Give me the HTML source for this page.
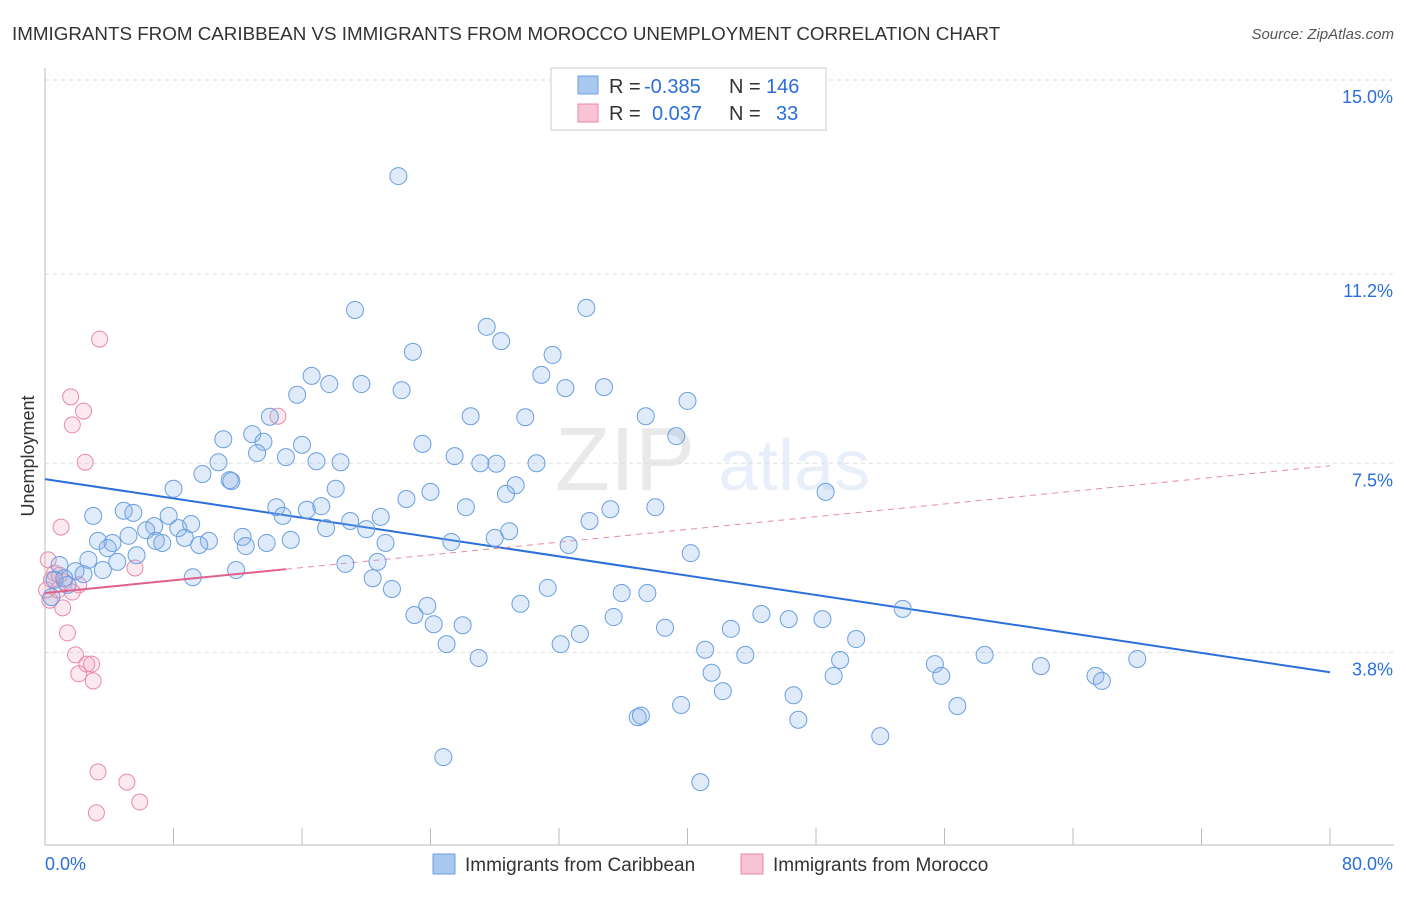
<!DOCTYPE html>
<html><head><meta charset="utf-8"><style>
body{margin:0;background:#fff;font-family:"Liberation Sans",sans-serif;}
svg text{font-family:"Liberation Sans",sans-serif;}
</style></head><body>
<svg id="chart" width="1406" height="892" xmlns="http://www.w3.org/2000/svg">
<text x="12" y="40" font-size="18.8" fill="#333">IMMIGRANTS FROM CARIBBEAN VS IMMIGRANTS FROM MOROCCO UNEMPLOYMENT CORRELATION CHART</text>
<text x="1394" y="39" font-size="15" fill="#555" text-anchor="end" font-style="italic">Source: ZipAtlas.com</text>
<g opacity="0.12">
<text x="555" y="490" font-size="90" font-family="Liberation Serif" fill="#555">ZIP</text>
<text x="718" y="490" font-size="72" fill="#4a86d8">atlas</text>
</g>
<g id="grid"></g>
<g id="axes"></g>
<g id="trends"></g>
<g id="points"></g>
<text transform="translate(34,456) rotate(-90)" font-size="18" fill="#333" text-anchor="middle">Unemployment</text>
<g>
<rect x="551" y="68" width="275" height="62" fill="#fff" stroke="#ccc"/>
<rect x="578" y="76" width="20" height="18" fill="#a9c8f0" stroke="#6a9fe0"/>
<rect x="578" y="104" width="20" height="18" fill="#f8c3d4" stroke="#e88aa8"/>
<text x="609" y="93" font-size="20" fill="#333">R =</text>
<text x="644" y="93" font-size="20" fill="#2a6fdb">-0.385</text>
<text x="729" y="93" font-size="20" fill="#333">N =</text>
<text x="766" y="93" font-size="20" fill="#2a6fdb">146</text>
<text x="609" y="120" font-size="20" fill="#333">R =</text>
<text x="652" y="120" font-size="20" fill="#2a6fdb">0.037</text>
<text x="729" y="120" font-size="20" fill="#333">N =</text>
<text x="776" y="120" font-size="20" fill="#2a6fdb">33</text>
</g>
<g>
<rect x="433" y="854" width="22" height="20" fill="#a9c8f0" stroke="#6a9fe0"/>
<text x="465" y="871" font-size="19" fill="#333">Immigrants from Caribbean</text>
<rect x="741" y="854" width="22" height="20" fill="#f8c3d4" stroke="#e88aa8"/>
<text x="773" y="871" font-size="19" fill="#333">Immigrants from Morocco</text>
</g>
</svg>
<script>
const yTicks=[15.0,11.2,7.5,3.8];
const yTickLabels=["15.0%","11.2%","7.5%","3.8%"];
const xTicks=[0,8,16,24,32,40,48,56,64,72,80];
const xLabels=["0.0%","80.0%"];
const blueX=[22.0,19.3,33.7,27.5,28.4,22.9,31.6,16.6,17.7,19.7,30.9,32.4,34.8,22.2,15.7,40.0,14.0,26.5,29.9,37.4,12.9,11.1,13.6,16.0,23.5,39.3,13.2,15.0,10.8,16.9,18.4,25.5,27.1,28.1,30.6,9.8,11.5,11.6,8.0,18.1,29.3,28.7,24.0,22.5,48.6,14.4,16.3,17.2,26.2,35.2,38.0,3.0,4.9,5.5,7.7,14.8,19.0,20.9,33.9,6.8,6.3,8.3,9.1,17.5,20.0,28.9,3.3,4.2,5.2,6.9,7.3,8.7,10.2,9.6,12.3,12.5,13.8,15.3,21.2,25.3,28.0,32.6,3.9,5.7,2.7,4.5,40.2,3.6,1.9,2.4,18.7,20.7,9.2,11.9,20.4,21.6,31.3,35.9,37.5,29.6,23.8,23.0,24.2,26.0,35.4,44.6,46.3,48.4,53.4,33.3,38.6,42.7,50.5,25.0,32.1,27.0,41.1,43.6,49.5,55.4,58.5,62.0,68.0,41.5,49.1,55.8,65.4,65.8,42.2,46.6,39.6,56.8,36.9,46.9,52.0,24.8,40.8,0.9,0.6,1.4,0.4,1.2,37.1];
const blueY=[13.12,10.50,10.54,10.17,9.89,9.68,9.62,9.21,9.05,9.05,9.23,8.97,8.99,8.93,8.84,8.72,8.41,8.42,8.40,8.42,8.07,7.97,7.92,7.86,7.88,8.03,7.70,7.62,7.52,7.54,7.52,7.64,7.50,7.49,7.50,7.29,7.17,7.15,7.00,7.00,7.07,6.90,6.94,6.80,6.94,6.64,6.59,6.66,6.64,6.60,6.64,6.47,6.57,6.53,6.47,6.47,6.37,6.45,6.37,6.27,6.19,6.23,6.31,6.23,6.21,6.17,5.98,5.94,6.08,5.98,5.94,6.04,5.98,5.90,6.06,5.88,5.94,6.00,5.94,5.96,6.04,5.90,5.84,5.70,5.61,5.57,5.74,5.41,5.39,5.33,5.53,5.57,5.27,5.41,5.25,5.04,5.06,4.96,4.96,4.75,4.71,4.53,4.35,4.33,4.49,4.55,4.45,4.45,4.65,4.16,4.28,4.26,4.06,3.96,3.96,3.69,3.85,3.75,3.65,3.57,3.75,3.53,3.67,3.40,3.34,3.34,3.34,3.24,3.04,2.96,2.77,2.75,2.53,2.48,2.16,1.75,1.26,5.51,5.22,5.12,4.88,5.25,2.56];
const pinkX=[3.4,1.6,2.4,1.7,2.5,1.0,14.5,0.2,5.6,0.6,1.2,2.1,0.8,1.7,0.3,1.1,1.4,1.9,2.6,2.9,2.1,3.0,3.3,5.1,5.9,3.2,0.4,0.9,0.1];
const pinkY=[9.93,8.80,8.52,8.25,7.52,6.25,8.42,5.61,5.45,5.35,5.18,5.12,5.02,4.98,4.82,4.67,4.18,3.75,3.57,3.57,3.38,3.24,1.46,1.26,0.87,0.66,5.22,5.31,5.02];
const blueTrend=[7.19,3.41];
const pinkTrend=[4.96,7.45];
const pinkSolidEnd=15;
const NS="http://www.w3.org/2000/svg";
const X=v=>45+v/80*1285, Y=v=>80+(15-v)*51.1;
function mk(tag,attrs,parent){const e=document.createElementNS(NS,tag);for(const k in attrs)e.setAttribute(k,attrs[k]);parent.appendChild(e);return e;}
const grid=document.getElementById('grid'),axes=document.getElementById('axes'),tr=document.getElementById('trends'),pts=document.getElementById('points');
yTicks.forEach((t,i)=>{
 const l=mk('line',{x1:45,x2:1394,y1:Y(t),y2:Y(t),stroke:'#ddd','stroke-dasharray':'4,4'},grid);
 
 
 const tx=mk('text',{x:1393,y:Y(t)+23,'font-size':18,fill:'#2a6fdb','text-anchor':'end'},axes);
 tx.textContent=yTickLabels[i];
 
 
});
const ax=mk('line',{x1:45,x2:1394,y1:845,y2:845,stroke:'#bbb'},axes);


const ay=mk('line',{x1:45,x2:45,y1:68,y2:845,stroke:'#bbb'},axes);


xTicks.forEach(t=>{
 const l=mk('line',{x1:X(t),x2:X(t),y1:828,y2:845,stroke:'#bbb'},axes);
 
 
});
const xl0=mk('text',{x:45,y:870,'font-size':18,fill:'#2a6fdb'},axes);xl0.textContent=xLabels[0];


const xl1=mk('text',{x:1393,y:870,'font-size':18,fill:'#2a6fdb','text-anchor':'end'},axes);xl1.textContent=xLabels[1];


pinkX.forEach((x,i)=>{
 const c=mk('circle',{cx:X(x),cy:Y(pinkY[i]),r:8,fill:'rgba(244,166,192,0.25)',stroke:'#e88aa8','stroke-width':1},pts);
 
 
});
blueX.forEach((x,i)=>{
 const c=mk('circle',{cx:X(x),cy:Y(blueY[i]),r:8.5,fill:'rgba(130,175,230,0.25)',stroke:'#6a9fe0','stroke-width':1},pts);
 
 
});
const bl=mk('line',{x1:X(0),y1:Y(blueTrend[0]),x2:X(80),y2:Y(blueTrend[1]),stroke:'#2a6fdb','stroke-width':2},tr);


const pe=pinkTrend[0]+(pinkTrend[1]-pinkTrend[0])*pinkSolidEnd/80;
const pd=mk('line',{x1:X(pinkSolidEnd),y1:Y(pe),x2:X(80),y2:Y(pinkTrend[1]),stroke:'#e88aa8','stroke-width':1,'stroke-dasharray':'6,5'},tr);


const ps=mk('line',{x1:X(0),y1:Y(pinkTrend[0]),x2:X(pinkSolidEnd),y2:Y(pe),stroke:'#e0608a','stroke-width':2},pts);


</script>
</body></html>
